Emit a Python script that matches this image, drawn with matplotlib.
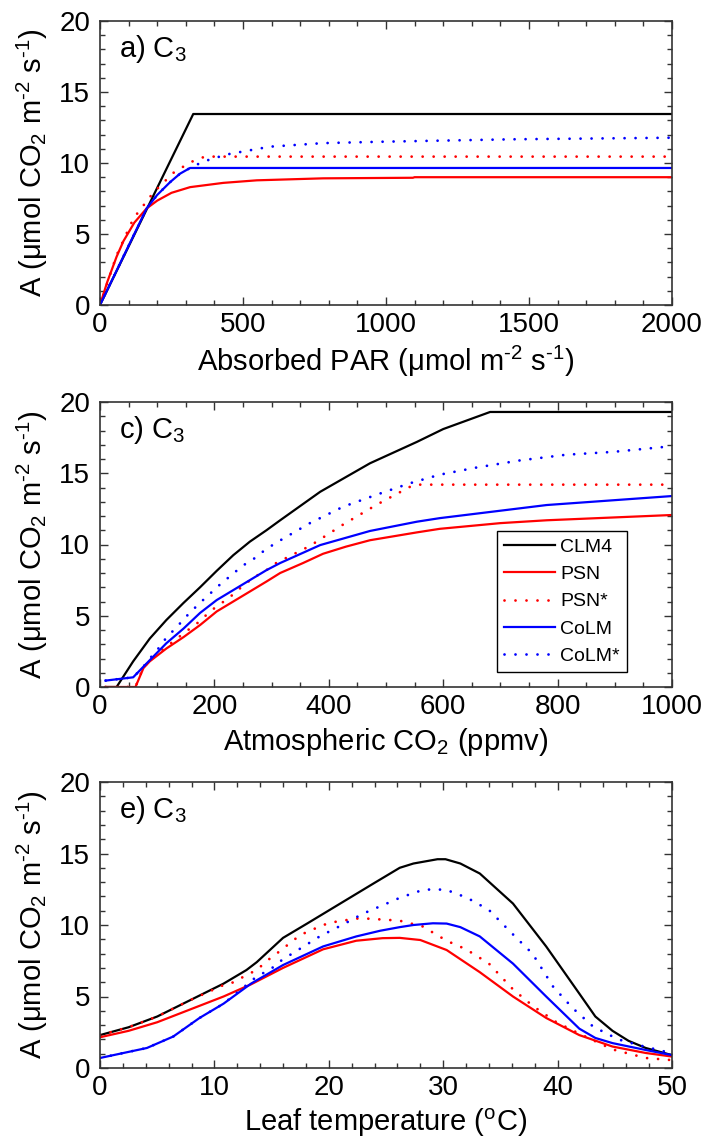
import matplotlib
matplotlib.use("Agg")
import matplotlib.pyplot as plt
from matplotlib.ticker import MultipleLocator

plt.rcParams['font.family'] = ['Liberation Sans', 'DejaVu Sans']
plt.rcParams['mathtext.fontset'] = 'custom'
plt.rcParams['mathtext.rm'] = 'Liberation Sans'
plt.rcParams['mathtext.it'] = 'Liberation Sans:italic'
plt.rcParams['mathtext.bf'] = 'Liberation Sans:bold'

# ---------------- Panel a: A vs absorbed PAR ----------------
par_clm4 = [0, 326, 2000]
a_clm4 = [0, 13.45, 13.45]
par_psn = [0, 25, 58, 82, 120, 163, 200, 250, 315, 431, 548, 780, 1094, 1100, 2000]
a_psn = [0, 1.6, 3.4, 4.5, 5.8, 6.8, 7.35, 7.9, 8.3, 8.6, 8.78, 8.92, 8.96, 9.0, 9.0]
par_psn_s = [0, 58, 117, 186, 256, 291, 326, 367, 2000]
a_psn_s = [0, 3.5, 6.1, 7.9, 9.3, 9.74, 10.14, 10.45, 10.45]
par_colm = [0, 163, 200, 245, 280, 315, 2000]
a_colm = [0, 6.8, 7.75, 8.65, 9.25, 9.65, 9.65]
par_colm_s = [0, 163, 200, 245, 280, 315, 361, 443, 594, 780, 990, 1444, 2000]
a_colm_s = [0, 6.8, 7.75, 8.65, 9.25, 9.65, 10.1, 10.6, 11.15, 11.4, 11.5, 11.67, 11.78]

# ---------------- Panel c: A vs atmospheric CO2 ----------------
co2_clm4 = [10, 29, 58, 87, 116, 146, 175, 204, 233, 262, 291, 315, 385, 472, 554, 600, 682, 1000]
c_clm4 = [0, 0, 1.8, 3.4, 4.7, 5.9, 7.0, 8.15, 9.25, 10.2, 11.0, 11.7, 13.7, 15.7, 17.2, 18.1, 19.3, 19.3]
co2_psn = [10, 62, 76, 87, 116, 146, 175, 204, 233, 262, 291, 315, 355, 390, 430, 472, 554, 594, 700,
           781, 1000]
c_psn = [0, 0, 1.33, 1.8, 2.7, 3.5, 4.35, 5.3, 6.0, 6.7, 7.4, 8.0, 8.7, 9.35, 9.85, 10.3, 10.85, 11.1,
         11.5, 11.7, 12.07]
co2_psn_s = [10, 62, 76, 99, 154, 175, 192, 213, 233, 251, 271, 291, 308, 367, 425, 484, 542, 552, 1000]
c_psn_s = [0, 0, 1.4, 2.3, 4.0, 4.63, 5.3, 5.9, 6.5, 7.15, 7.74, 8.2, 8.7, 9.9, 11.4, 12.8, 14.05, 14.2, 14.2]
co2_colm = [10, 58, 76, 116, 146, 175, 204, 233, 262, 291, 315, 385, 472, 554, 594, 781, 1000]
c_colm = [0.45, 0.68, 1.43, 3.07, 4.1, 5.2, 6.1, 6.8, 7.5, 8.2, 8.7, 9.96, 10.95, 11.6, 11.85, 12.77, 13.4]
co2_colm_s = [10, 58, 76, 85, 102, 116, 134, 152, 172, 191, 210, 230, 249, 269, 288, 307, 367, 425,
              484, 542, 594, 658, 734, 815, 897, 1000]
c_colm_s = [0.45, 0.68, 1.43, 1.9, 2.7, 3.46, 4.2, 5.0, 5.8, 6.5, 7.2, 7.86, 8.5, 9.0, 9.6, 10.1, 11.5, 12.65,
            13.5, 14.3, 14.9, 15.4, 15.9, 16.3, 16.5, 16.9]

# ---------------- Panel e: A vs leaf temperature ----------------
t_clm4 = [0, 2.5, 5, 7.9, 10.8, 12.8, 13.7, 16, 18.1, 21, 23.9, 26.2, 27.4, 29.5, 30.2, 31.5, 33.2, 36.1,
          39, 41.9, 43.3, 44.8, 46.2, 47.7, 50]
e_clm4 = [2.3, 2.85, 3.6, 4.75, 5.9, 6.85, 7.4, 9.1, 10.1, 11.5, 12.9, 14.0, 14.3, 14.6, 14.6, 14.3, 13.6,
          11.5, 8.5, 5.2, 3.6, 2.6, 1.9, 1.4, 0.9]
t_psn = [0, 2.5, 5, 7.9, 10.8, 13.2, 16, 19.5, 22.4, 24.7, 26.2, 28, 30.3, 33.2, 36.1, 39, 41.9, 44.8,
         47.7, 50]
e_psn = [2.15, 2.6, 3.2, 4.1, 5.0, 5.85, 7.0, 8.3, 8.9, 9.08, 9.1, 8.95, 8.25, 6.7, 5.0, 3.5, 2.3, 1.5,
         1.05, 0.8]
t_psn_s = [0, 2.5, 5, 7.9, 10.8, 11.7, 12.8, 13.7, 14.6, 15.6, 16.5, 17.5, 18.5, 19.5, 20.4, 22.4, 23.3,
           25.3, 26.2, 28.2, 30.3, 32, 34, 36.1, 37.9, 39.9, 41.9, 44.8, 47.7, 50]
e_psn_s = [2.3, 2.85, 3.6, 4.75, 5.8, 6.0, 6.5, 6.85, 7.5, 8.1, 8.67, 9.3, 9.65, 10.0, 10.2, 10.45, 10.45,
           10.35, 10.3, 9.9, 8.9, 8.3, 7.3, 5.5, 4.3, 3.2, 2.4, 1.3, 0.7, 0.55]
t_colm = [0, 4.1, 6.4, 8.7, 10.8, 13.2, 16, 19.5, 22.4, 24.5, 26.2, 27.4, 29.1, 30.3, 31.5, 33.2, 36.1,
          39, 41.9, 43.3, 44.8, 47.7, 50]
e_colm = [0.7, 1.4, 2.2, 3.5, 4.5, 5.9, 7.2, 8.5, 9.2, 9.6, 9.85, 10.0, 10.12, 10.1, 9.85, 9.2, 7.3,
          5.0, 2.75, 2.1, 1.74, 1.26, 0.9]
t_colm_s = [0, 4.1, 6.4, 8.7, 10.8, 12.8, 13.7, 14.9, 15.9, 17.2, 19.2, 21.4, 22.3, 23.3, 25.2, 26.2,
            28.2, 29.2, 30.3, 32.1, 34, 35.9, 37.8, 39.6, 41.3, 43.1, 45.3, 47.1, 49.1, 50]
e_colm_s = [0.7, 1.4, 2.2, 3.5, 4.5, 5.8, 6.4, 6.9, 7.55, 8.2, 9.2, 10.1, 10.5, 10.9, 11.55, 11.9,
            12.45, 12.5, 12.45, 11.9, 11.05, 9.5, 8.0, 5.7, 4.2, 2.9, 2.0, 1.6, 1.2, 1.05]

series_names = ['CLM4', 'PSN', 'PSN*', 'CoLM', 'CoLM*']
colors = ['black', '#ff0000', '#ff0000', '#0000ff', '#0000ff']
solid = [True, True, False, True, False]

ylabel_text = 'A (μmol CO$_2$ m$^{\\text{-}2}$ s$^{\\text{-}1}$)'

panels = [
    dict(label='a) C$_3$', xlabel='Absorbed PAR (μmol m$^{\\text{-}2}$ s$^{\\text{-}1}$)', xlim=(0, 2000),
         xmajor=500, xminor=100,
         data=[(par_clm4, a_clm4), (par_psn, a_psn), (par_psn_s, a_psn_s),
               (par_colm, a_colm), (par_colm_s, a_colm_s)],
         rect=[100, 21, 672, 305], legend=False),
    dict(label='c) C$_3$', xlabel='Atmospheric CO$_2$ (ppmv)', xlim=(0, 1000),
         xmajor=200, xminor=50,
         data=[(co2_clm4, c_clm4), (co2_psn, c_psn), (co2_psn_s, c_psn_s),
               (co2_colm, c_colm), (co2_colm_s, c_colm_s)],
         rect=[100, 402, 672, 687], legend=True),
    dict(label='e) C$_3$', xlabel='Leaf temperature ($^{\\mathrm{o}}$C)', xlim=(0, 50),
         xmajor=10, xminor=2,
         data=[(t_clm4, e_clm4), (t_psn, e_psn), (t_psn_s, e_psn_s),
               (t_colm, e_colm), (t_colm_s, e_colm_s)],
         rect=[100, 782, 672, 1068], legend=False),
]

W, H = 706, 1142
fig = plt.figure(figsize=(W / 100, H / 100), dpi=100)

for p in panels:
    l, t, r, b = p['rect']
    ax = fig.add_axes([l / W, 1 - b / H, (r - l) / W, (b - t) / H])
    handles = []
    for (xs, ys), name, c, s in zip(p['data'], series_names, colors, solid):
        if s:
            ln, = ax.plot(xs, ys, color=c, lw=1.6, label=name, solid_joinstyle='round')
        else:
            ln, = ax.plot(xs, ys, color=c, lw=2.0, linestyle=(0, (0.01, 3.95)),
                          dash_capstyle='round', label=name)
        handles.append(ln)
    ax.set_xlim(*p['xlim'])
    ax.set_ylim(0, 20)
    ax.xaxis.set_major_locator(MultipleLocator(p['xmajor']))
    ax.xaxis.set_minor_locator(MultipleLocator(p['xminor']))
    ax.yaxis.set_major_locator(MultipleLocator(5))
    ax.yaxis.set_minor_locator(MultipleLocator(1))
    ax.tick_params(which='both', direction='in', top=True, right=True, colors='#333333',
                   labelcolor='black', labelsize=20)
    ax.tick_params(which='major', length=6, width=1.0)
    ax.tick_params(which='minor', length=3.5, width=1.0)
    ax.tick_params(axis='x', which='major', pad=5)
    ax.tick_params(axis='y', which='major', pad=7)
    for sp in ax.spines.values():
        sp.set_color('#333333')
        sp.set_linewidth(1.2)
    ax.set_xlabel(p['xlabel'], fontsize=21, labelpad=4)
    ax.set_ylabel(ylabel_text, fontsize=21)
    ax.yaxis.set_label_coords(-0.087, 0.5)
    ax.text(0.033, 0.958, p['label'], transform=ax.transAxes, fontsize=21,
            ha='left', va='top')
    if p['legend']:
        leg = ax.legend(handles=handles, loc='lower right', bbox_to_anchor=(0.921, 0.053),
                        borderaxespad=0, fontsize=14, frameon=True, fancybox=False,
                        edgecolor='black', framealpha=1, handlelength=2.6,
                        handletextpad=0.3, labelspacing=0.5, borderpad=0.35)
        leg.get_frame().set_linewidth(1.0)

fig.savefig('out.png', dpi=100)
